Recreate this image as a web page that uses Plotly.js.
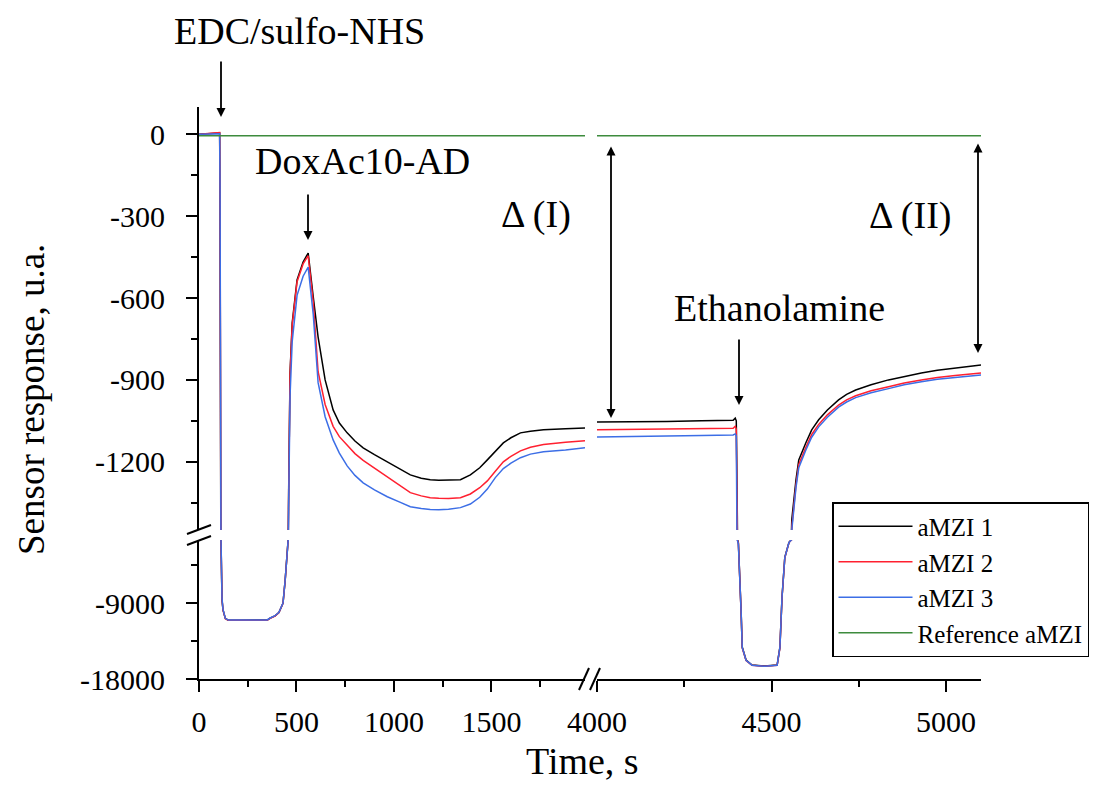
<!DOCTYPE html>
<html><head><meta charset="utf-8">
<script src="https://cdn.plot.ly/plotly-3.0.1.min.js"></script>
<style>html,body{margin:0;padding:0;background:#fff}#chart{width:1094px;height:787px}</style>
</head><body><div id="chart"></div>
<script>
// ---------- data ----------
const seriesNames  = ['aMZI 1', 'aMZI 2', 'aMZI 3', 'Reference aMZI'];
const seriesColors = ['#000000', '#ff2030', '#3c6ee6', '#3d8b3d'];

// first part of the run (s)
const timeLeft = [0, 50, 95, 100, 106, 108, 110, 113, 118, 123, 135, 150, 200, 300, 350, 365, 390, 410, 431, 442,
  452, 457, 460, 467, 478, 503, 534, 560, 586, 611, 647, 668, 688, 720, 760, 800, 842, 900, 966, 1030,
  1084, 1140, 1186, 1230, 1280, 1341, 1392, 1440, 1479, 1520, 1561, 1600, 1649, 1700, 1767, 1880, 1980];
const aMZI1Left = [0, 2, 3, 5, 5, -300, -1000, -1800, -8600, -9800, -10800, -11013, -11013, -11013, -11000, -10776, -10500, -10100, -9000, -6277,
  -2370, -1540, -1300, -875, -692, -534, -468, -435, -596, -743, -900, -960, -1010, -1058, -1094, -1124, -1149, -1174, -1200, -1226,
  -1248, -1260, -1266, -1268, -1268, -1266, -1248, -1222, -1193, -1160, -1131, -1112, -1094, -1088, -1083, -1079, -1076];
const aMZI2Left = [0, 3, 4, 6, 6, -250, -900, -1700, -8500, -9800, -10850, -11030, -11030, -11030, -11020, -10790, -10520, -10120, -9020, -6300,
  -2400, -1560, -1310, -880, -700, -540, -475, -445, -615, -870, -990, -1035, -1070, -1108, -1140, -1170, -1195, -1223, -1255, -1285,
  -1313, -1325, -1332, -1334, -1335, -1332, -1318, -1295, -1270, -1235, -1200, -1180, -1160, -1147, -1137, -1128, -1123];
const aMZI3Left = [0, 0, 0, 2, 2, -200, -800, -1600, -8400, -9700, -10800, -11000, -11000, -11000, -10990, -10760, -10490, -10090, -8980, -6250,
  -2350, -1600, -1350, -960, -760, -590, -520, -487, -660, -910, -1035, -1082, -1120, -1168, -1215, -1250, -1277, -1303, -1328, -1348,
  -1365, -1371, -1375, -1376, -1374, -1368, -1355, -1330, -1300, -1258, -1225, -1205, -1185, -1172, -1163, -1157, -1149];

// second part of the run (s)
const timeRight = [4000, 4100, 4200, 4300, 4390, 4396, 4399, 4402, 4405, 4413, 4416, 4427, 4444, 4480, 4516, 4524, 4530, 4538, 4550, 4558,
  4570, 4578, 4598, 4615, 4635, 4660, 4692, 4715, 4741, 4785, 4835, 4880, 4929, 4975, 5026, 5060, 5100];
const aMZI1Right = [-1054, -1054, -1052, -1050, -1048, -1040, -1050, -1400, -1800, -10184, -14210, -15750, -16340, -16460, -16340, -14210, -8290, -3554, -1777, -1412,
  -1266, -1193, -1131, -1083, -1046, -1010, -973, -953, -937, -918, -900, -887, -875, -865, -856, -850, -845];
const aMZI2Right = [-1083, -1082, -1080, -1079, -1077, -1070, -1080, -1450, -1900, -10250, -14300, -15800, -16380, -16500, -16380, -14300, -8350, -3600, -1800, -1440,
  -1285, -1210, -1148, -1100, -1063, -1028, -992, -973, -958, -940, -925, -911, -900, -891, -884, -879, -875];
const aMZI3Right = [-1109, -1108, -1106, -1104, -1102, -1098, -1105, -1500, -2000, -10200, -14250, -15780, -16360, -16480, -16360, -14250, -8300, -3580, -1790, -1450,
  -1295, -1222, -1158, -1110, -1072, -1037, -1000, -981, -965, -947, -932, -918, -907, -898, -891, -886, -882];

const refTimeLeft = [0, 1980];
const refLeft = [-5, -5];
const refTimeRight = [4000, 5100];
const refRight = [-5, -5];

// tick labels
const upperTickVals = [0, -300, -600, -900, -1200];
const upperTickText = ['0', '-300', '-600', '-900', '-1200'];
const lowerTickVals = [-9000, -18000];
const lowerTickText = ['-9000', '-18000'];
const leftTickVals = [0, 500, 1000, 1500];
const rightTickVals = [4000, 4500, 5000];

// ---------- geometry ----------
const W = 1094, H = 787;
const M = {l: 199, r: 113, t: 107, b: 108, autoexpand: false};
const PW = W - M.l - M.r, PH = H - M.t - M.b;
const px = x => (x - M.l) / PW;
const py = y => (H - M.b - y) / PH;

const FONT = 'Liberation Serif, Times New Roman, serif';

const traces = [];
const sets = [
  [timeLeft, aMZI1Left, timeRight, aMZI1Right],
  [timeLeft, aMZI2Left, timeRight, aMZI2Right],
  [timeLeft, aMZI3Left, timeRight, aMZI3Right],
  [refTimeLeft, refLeft, refTimeRight, refRight]
];
sets.forEach((s, i) => {
  const combos = [[s[0], s[1], 'x', 'y'], [s[0], s[1], 'x', 'y2'], [s[2], s[3], 'x2', 'y'], [s[2], s[3], 'x2', 'y2']];
  combos.forEach((c, k) => traces.push({
    type: 'scatter', mode: 'lines', x: c[0], y: c[1], xaxis: c[2], yaxis: c[3],
    name: seriesNames[i], legendgroup: seriesNames[i], showlegend: k === 0,
    line: {color: seriesColors[i], width: 1.5}, hoverinfo: 'skip'
  }));
});

const axBase = {
  showgrid: false, zeroline: false, showline: true, linecolor: '#000', linewidth: 2,
  ticks: 'outside', ticklen: 11, tickwidth: 2, tickcolor: '#000',
  tickfont: {family: FONT, size: 30, color: '#000'}, fixedrange: true, tickmode: 'array', automargin: false
};
const minorTicks = d => ({dtick: d, ticks: 'outside', ticklen: 6, tickwidth: 2, tickcolor: '#000'});

const textAnn = (t, x, y, size, angle) => ({text: t, x: px(x), y: py(y), xref: 'paper', yref: 'paper', showarrow: false,
  xanchor: 'center', yanchor: 'middle', textangle: angle || 0, borderpad: 0, font: {family: FONT, size: size || 38, color: '#000'}});
const arrowAnn = (x, yHead, yTail, both) => ({text: '', x: px(x), y: py(yHead), xref: 'paper', yref: 'paper',
  showarrow: true, ax: 0, ay: -(yHead - yTail), axref: 'pixel', ayref: 'pixel', arrowhead: 2, arrowsize: 1,
  arrowwidth: 1.8, arrowcolor: '#000', arrowside: both ? 'end+start' : 'end', startarrowhead: 2, startarrowsize: 1, standoff: 0, startstandoff: 0});

const slash = (x0, y0, x1, y1) => ({type: 'line', xref: 'paper', yref: 'paper', x0: px(x0), y0: py(y0), x1: px(x1), y1: py(y1),
  line: {color: '#000', width: 2}});

const layout = {
  width: W, height: H, margin: M,
  paper_bgcolor: '#fff', plot_bgcolor: 'rgba(0,0,0,0)',
  font: {family: FONT, color: '#000'},
  showlegend: true,
  legend: {xref: 'container', yref: 'container', x: 832 / W, y: 1 - 502 / H, xanchor: 'left', yanchor: 'top',
    bgcolor: '#fff', bordercolor: '#000', borderwidth: 1.5,
    font: {family: FONT, size: 25, color: '#000'}, itemwidth: 74, tracegroupgap: 0, traceorder: 'normal'},
  xaxis: Object.assign({}, axBase, {domain: [0, px(585)], anchor: 'y2', range: [0, 1980],
    tickvals: leftTickVals, ticktext: leftTickVals.map(String), minor: minorTicks(250), ticklabelstandoff: 4}),
  xaxis2: Object.assign({}, axBase, {domain: [px(597), 1], anchor: 'y2', range: [4000, 5100],
    tickvals: rightTickVals, ticktext: rightTickVals.map(String), minor: minorTicks(250), ticklabelstandoff: 4}),
  yaxis: Object.assign({}, axBase, {domain: [py(530), 1], anchor: 'x', range: [-1450, 100],
    tickvals: upperTickVals, ticktext: upperTickText, minor: minorTicks(150), ticklabelstandoff: 15}),
  yaxis2: Object.assign({}, axBase, {domain: [0, py(540)], anchor: 'x', range: [-18000, -1500],
    tickvals: lowerTickVals, ticktext: lowerTickText, minor: minorTicks(4500), ticklabelstandoff: 15}),
  annotations: [
    textAnn('Time, s', 582, 761, 38),
    textAnn('Sensor response, u.a.', 31, 400, 37, -90),
    textAnn('EDC/sulfo-NHS', 299, 31),
    textAnn('DoxAc10-AD', 362, 161),
    textAnn('\u0394 (I)', 536, 214),
    textAnn('\u0394 (II)', 910, 216),
    textAnn('Ethanolamine', 779, 308),
    arrowAnn(221, 117, 60, false),
    arrowAnn(308, 240, 193, false),
    arrowAnn(739, 405, 338, false),
    arrowAnn(611, 418, 145, true),
    arrowAnn(978, 353, 142, true)
  ],
  shapes: [
    slash(187, 534, 211, 525),
    slash(187, 545, 211, 536),
    slash(579, 690, 589, 668),
    slash(590, 690, 600, 668)
  ]
};

Plotly.newPlot('chart', traces, layout, {displayModeBar: false, staticPlot: true});
</script>
</body></html>
